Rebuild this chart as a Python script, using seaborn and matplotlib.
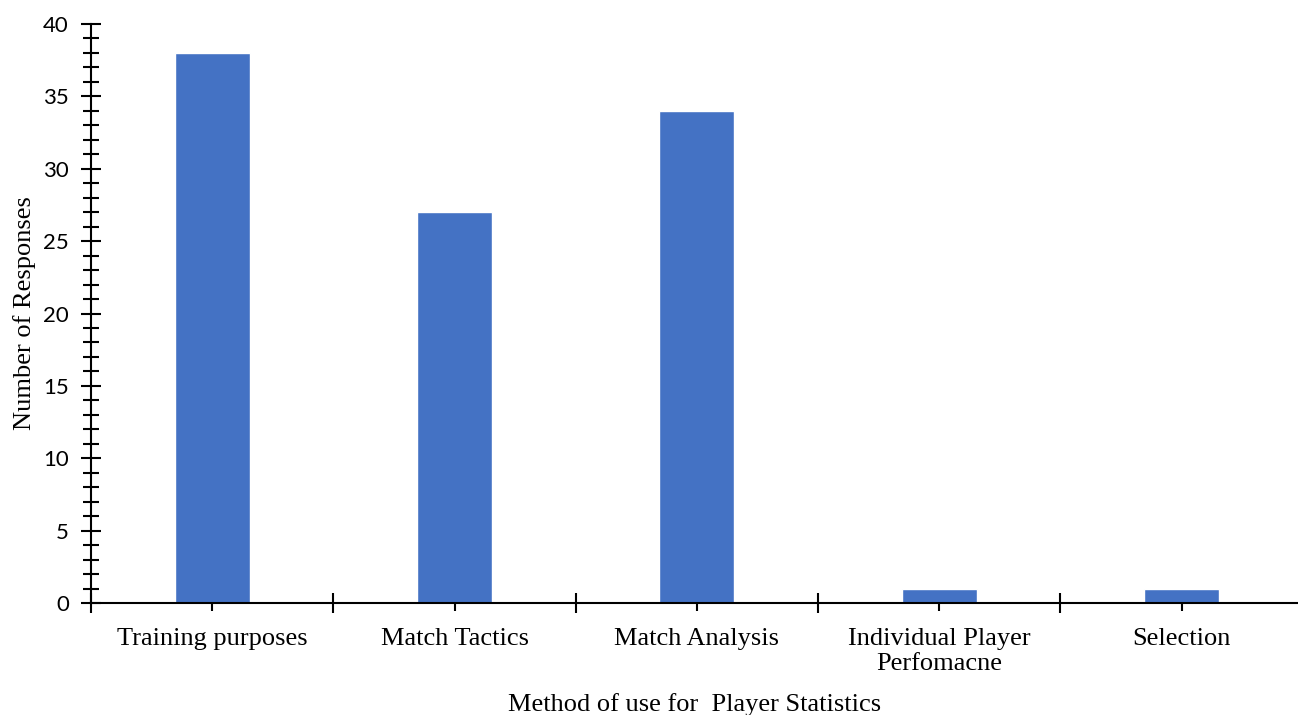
import matplotlib
matplotlib.use("Agg")
import matplotlib.pyplot as plt
from matplotlib.ticker import MultipleLocator, FixedLocator, NullFormatter
import seaborn as sns
import pandas as pd

categories = ["Training purposes", "Match Tactics", "Match Analysis",
              "Individual Player\nPerfomacne", "Selection"]
responses = [38, 27, 34, 1, 1]

x_title = "Method of use for  Player Statistics"
y_title = "Number of Responses"

sns.set_theme(style="white")
plt.rcParams["font.family"] = ["Liberation Serif", "DejaVu Serif"]

df = pd.DataFrame({"category": categories, "responses": responses})

fig = plt.figure(figsize=(12.98, 7.15), dpi=100)
ax = fig.add_axes([91 / 1298, 1 - 603 / 715, 1 - 91 / 1298, (603 - 24) / 715])

sns.barplot(data=df, x="category", y="responses", color="#4472C4",
            width=0.31, saturation=1, ax=ax)

ax.set_ylim(0, 40)
ax.set_xlim(-0.5, 4.48)

for side in ["top", "right"]:
    ax.spines[side].set_visible(False)
for side in ["left", "bottom"]:
    ax.spines[side].set_color("black")
    ax.spines[side].set_linewidth(1.5)

# y axis: majors every 5, minors every 1, crossing the spine
ax.yaxis.set_major_locator(MultipleLocator(5))
ax.yaxis.set_minor_locator(MultipleLocator(1))
ax.tick_params(axis="y", which="major", direction="inout", length=14, width=1.5,
               colors="black", labelsize=16, pad=9, left=True)
ax.tick_params(axis="y", which="minor", direction="inout", length=11, width=1.5,
               colors="black", left=True)
for lbl in ax.get_yticklabels():
    lbl.set_fontfamily(["Lato", "DejaVu Sans"])

# x axis: ticks at category centres and at boundaries
ax.xaxis.set_minor_locator(FixedLocator([i + 0.5 for i in range(-1, len(categories))]))
ax.xaxis.set_minor_formatter(NullFormatter())
ax.tick_params(axis="x", which="major", direction="inout", length=12, width=1.5,
               colors="black", labelsize=19, pad=12, bottom=True)
ax.tick_params(axis="x", which="minor", direction="inout", length=14, width=1.5,
               colors="black", bottom=True)
for lbl in ax.get_xticklabels():
    lbl.set_linespacing(1.15)

ax.set_xlabel(x_title, fontsize=19, labelpad=13, color="black")
ax.set_ylabel(y_title, fontsize=19, labelpad=5, color="black")

fig.savefig("out.png", dpi=100)
